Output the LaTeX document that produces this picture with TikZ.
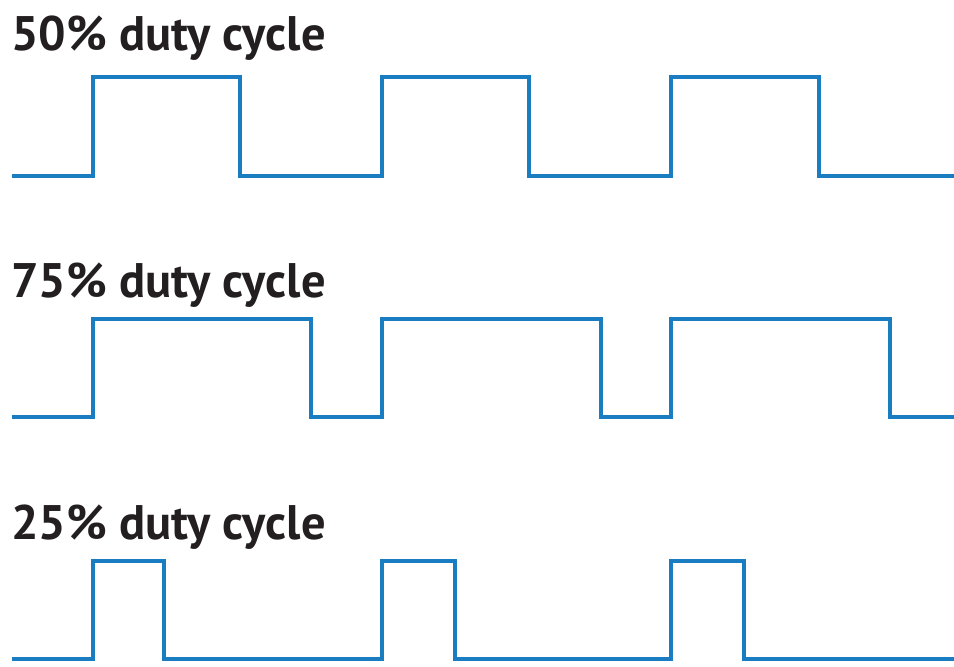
\documentclass[tikz,border=0pt]{standalone}
\usepackage{fontspec}
\setmainfont{PT Sans}
\definecolor{wave}{HTML}{1A7CC1}
\definecolor{ink}{HTML}{231F20}
\begin{document}
\begin{tikzpicture}[x=1pt,y=-1pt,
  wavestyle/.style={draw=wave,line width=4pt,line join=miter},
  title/.style={anchor=base west,inner sep=0pt,text=ink,font=\fontsize{48.5}{50}\selectfont\bfseries}]
\useasboundingbox (0,0) rectangle (954,667);
% 50%
\node[title] (t50) at (11,50) {50\% duty cycle};
\coordinate (s50) at (12,176);
\coordinate (e50) at (956,176);
\draw[wavestyle] (s50) -- (93,176) -- (93,77) -- (240,77) -- (240,176) -- (382,176) -- (382,77) -- (529,77) -- (529,176) -- (671,176) -- (671,77) -- (819,77) -- (819,176) -- (e50);
% 75%
\node[title] (t75) at (11,297) {75\% duty cycle};
\coordinate (s75) at (12,417);
\coordinate (e75) at (956,417);
\draw[wavestyle] (s75) -- (93,417) -- (93,319) -- (311,319) -- (311,417) -- (382,417) -- (382,319) -- (601,319) -- (601,417) -- (671,417) -- (671,319) -- (890,319) -- (890,417) -- (e75);
% 25%
\node[title] (t25) at (11,539) {25\% duty cycle};
\coordinate (s25) at (12,659);
\coordinate (e25) at (956,659);
\draw[wavestyle] (s25) -- (93,659) -- (93,561) -- (164,561) -- (164,659) -- (382,659) -- (382,561) -- (455,561) -- (455,659) -- (671,659) -- (671,561) -- (744,561) -- (744,659) -- (e25);
\end{tikzpicture}
\end{document}
